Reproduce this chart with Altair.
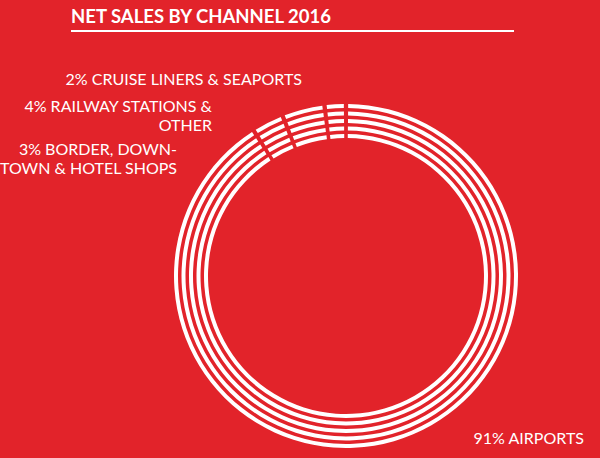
import altair as alt
import pandas as pd

# Data
channels = ["AIRPORTS", "BORDER, DOWN-TOWN & HOTEL SHOPS", "RAILWAY STATIONS & OTHER", "CRUISE LINERS & SEAPORTS"]
shares = [91, 3, 4, 2]
order = [1, 2, 3, 4]

df = pd.DataFrame({"channel": channels, "share": shares, "order": order})
one = pd.DataFrame({"k": [0]})

BG = "#E2232A"
WHITE = "#FFFFFF"
CX, CY = 346, 276
ring_outer = [172, 164.5, 157, 149.5, 142]
ring_thick = 4

base = alt.Chart(df).encode(
    theta=alt.Theta("share:Q", stack=True, scale=alt.Scale(domain=[0, 100])),
    order=alt.Order("order:Q"),
    x=alt.value(CX),
    y=alt.value(CY),
)

rings = [
    base.mark_arc(radius=r, radius2=r - ring_thick, padAngle=0.018, color=WHITE)
    for r in ring_outer
]

title = alt.Chart(one).mark_text(
    text="NET SALES BY CHANNEL 2016", font="Lato", fontWeight="bold", fontSize=18.5,
    color=WHITE, align="left", baseline="alphabetic"
).encode(x=alt.value(71), y=alt.value(23))

underline = alt.Chart(one).mark_rule(color=WHITE, strokeWidth=2).encode(
    x=alt.value(71), x2=alt.value(514), y=alt.value(31)
)

def label(lines, x, y, align="right"):
    return alt.Chart(one).mark_text(
        text=lines, font="Lato", fontWeight="normal", fontSize=16, color=WHITE,
        align=align, baseline="middle", lineHeight=19
    ).encode(x=alt.value(x), y=alt.value(y))

labels = [
    label("2% CRUISE LINERS & SEAPORTS", 302, 80),
    label(["4% RAILWAY STATIONS &", "OTHER"], 212, 107),
    label(["3% BORDER, DOWN-", "TOWN & HOTEL SHOPS"], 177, 150),
    label("91% AIRPORTS", 584, 439),
]

chart = alt.layer(*rings, title, underline, *labels).properties(
    width=600, height=458, autosize=alt.AutoSizeParams(type="none"), padding=0,
    background=BG,
).configure_view(stroke=None)

chart.save("out.html", embed_options={"renderer": "svg", "actions": False})
